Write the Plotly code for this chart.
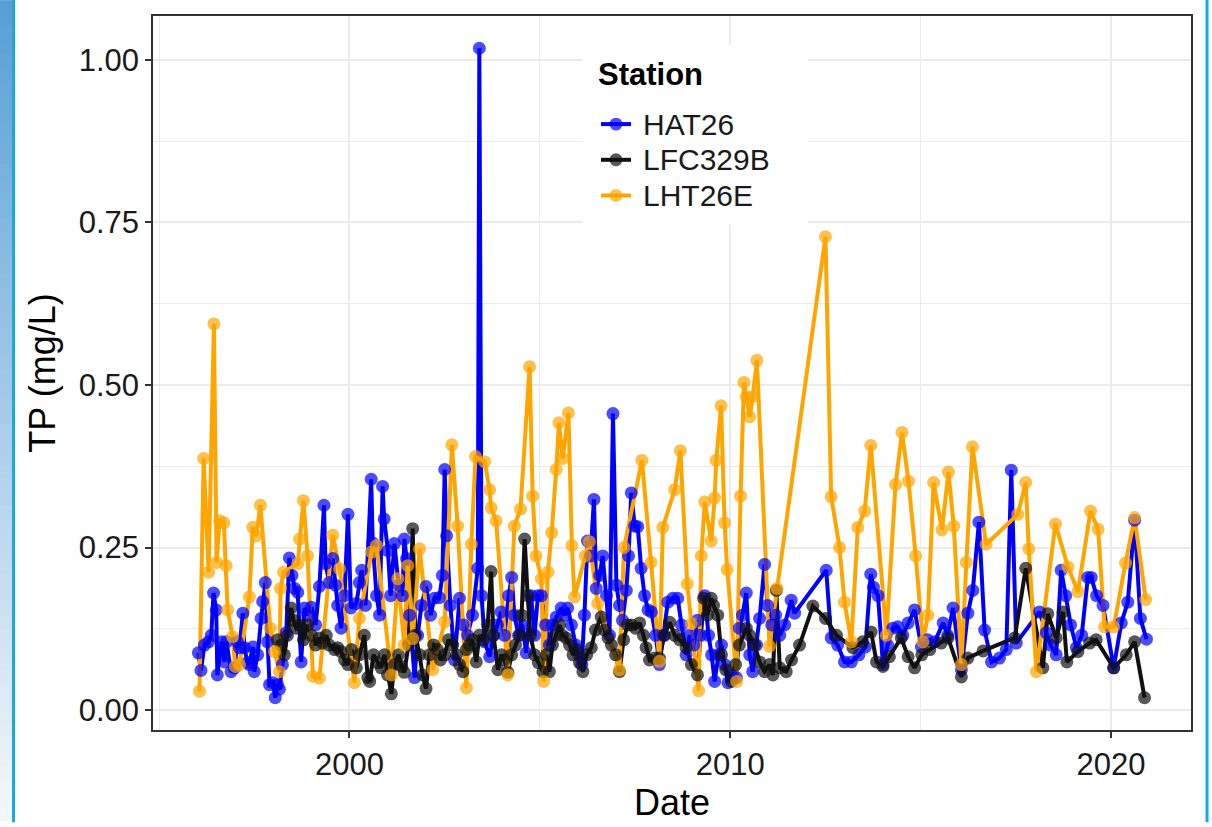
import plotly.graph_objects as go

# ---------------- data ----------------
stations = ["HAT26", "LFC329B", "LHT26E"]

hat_year = [1996.03, 1996.10, 1996.19, 1996.30, 1996.37, 1996.43, 1996.50, 1996.53, 1996.64, 1996.72,
            1996.77, 1996.89, 1996.98, 1997.06, 1997.11, 1997.20, 1997.24, 1997.32, 1997.37, 1997.46,
            1997.50, 1997.59, 1997.68, 1997.72, 1997.79, 1997.85, 1997.90, 1997.99, 1998.05, 1998.11,
            1998.16, 1998.24, 1998.34, 1998.42, 1998.49, 1998.56, 1998.64, 1998.73, 1998.82, 1998.90,
            1999.00, 1999.11, 1999.21, 1999.33, 1999.37, 1999.47, 1999.56, 1999.63, 1999.69, 1999.78,
            1999.87, 1999.96, 2000.04, 2000.18, 2000.26, 2000.32, 2000.42, 2000.57, 2000.61, 2000.71,
            2000.79, 2000.87, 2000.91, 2001.01, 2001.08, 2001.18, 2001.29, 2001.39, 2001.44, 2001.50,
            2001.58, 2001.71, 2001.79, 2001.89, 2002.01, 2002.13, 2002.23, 2002.36, 2002.44, 2002.50,
            2002.55, 2002.65, 2002.76, 2002.89, 2002.99, 2003.10, 2003.23, 2003.37, 2003.41, 2003.47,
            2003.55, 2003.68, 2003.78, 2003.89, 2003.98, 2004.07, 2004.18, 2004.26, 2004.33, 2004.44,
            2004.54, 2004.64, 2004.77, 2004.86, 2004.95, 2005.04, 2005.15, 2005.25, 2005.33, 2005.43,
            2005.56, 2005.65, 2005.73, 2005.83, 2005.94, 2006.02, 2006.10, 2006.17, 2006.25, 2006.33,
            2006.42, 2006.48, 2006.57, 2006.65, 2006.75, 2006.83, 2006.92, 2007.01, 2007.09, 2007.17,
            2007.27, 2007.33, 2007.40, 2007.49, 2007.57, 2007.66, 2007.75, 2007.84, 2007.93, 2008.04,
            2008.14, 2008.25, 2008.36, 2008.49, 2008.62, 2008.72, 2008.84, 2008.93, 2009.04, 2009.14,
            2009.22, 2009.33, 2009.43, 2009.51, 2009.59, 2009.69, 2009.77, 2009.85, 2009.94, 2010.03,
            2010.16, 2010.24, 2010.32, 2010.42, 2010.51, 2010.59, 2010.69, 2010.77, 2010.90, 2010.98,
            2011.09, 2011.19, 2011.30, 2011.43, 2011.60, 2011.69, 2012.52, 2012.65, 2012.82, 2013.00,
            2013.18, 2013.38, 2013.55, 2013.69, 2013.76, 2013.88, 2014.01, 2014.13, 2014.27, 2014.40,
            2014.53, 2014.67, 2014.84, 2015.02, 2015.18, 2015.37, 2015.59, 2015.71, 2015.85, 2016.07,
            2016.24, 2016.37, 2016.53, 2016.68, 2016.86, 2017.07, 2017.25, 2017.38, 2017.51, 2018.12,
            2018.30, 2018.41, 2018.56, 2018.69, 2018.81, 2018.94, 2019.09, 2019.23, 2019.39, 2019.48,
            2019.62, 2019.79, 2020.07, 2020.27, 2020.44, 2020.62, 2020.77, 2020.93]
hat_tp = [0.088, 0.061, 0.100, 0.105, 0.115, 0.180, 0.154, 0.054, 0.105, 0.074,
          0.105, 0.059, 0.065, 0.105, 0.096, 0.149, 0.096, 0.073, 0.070, 0.097,
          0.059, 0.085, 0.141, 0.167, 0.196, 0.105, 0.039, 0.042, 0.019, 0.039,
          0.032, 0.070, 0.119, 0.234, 0.207, 0.187, 0.181, 0.074, 0.157, 0.146,
          0.158, 0.131, 0.190, 0.315, 0.225, 0.196, 0.233, 0.192, 0.161, 0.126,
          0.176, 0.301, 0.157, 0.164, 0.196, 0.215, 0.161, 0.355, 0.257, 0.176,
          0.146, 0.344, 0.294, 0.245, 0.176, 0.256, 0.192, 0.176, 0.263, 0.233,
          0.146, 0.050, 0.115, 0.161, 0.190, 0.146, 0.172, 0.173, 0.207, 0.370,
          0.268, 0.161, 0.077, 0.172, 0.131, 0.115, 0.146, 0.218, 1.018, 0.176,
          0.105, 0.082, 0.115, 0.131, 0.151, 0.115, 0.176, 0.204, 0.146, 0.115,
          0.131, 0.088, 0.176, 0.115, 0.176, 0.176, 0.131, 0.100, 0.131, 0.143,
          0.157, 0.146, 0.157, 0.131, 0.100, 0.085, 0.070, 0.146, 0.260, 0.237,
          0.324, 0.187, 0.207, 0.237, 0.176, 0.115, 0.456, 0.192, 0.161, 0.138,
          0.184, 0.237, 0.334, 0.283, 0.282, 0.218, 0.176, 0.154, 0.151, 0.115,
          0.070, 0.115, 0.166, 0.172, 0.172, 0.131, 0.085, 0.115, 0.100, 0.138,
          0.115, 0.176, 0.115, 0.085, 0.044, 0.085, 0.100, 0.070, 0.042, 0.054,
          0.050, 0.126, 0.146, 0.180, 0.085, 0.059, 0.100, 0.141, 0.224, 0.161,
          0.131, 0.146, 0.115, 0.131, 0.169, 0.149, 0.215, 0.111, 0.100, 0.074,
          0.074, 0.085, 0.097, 0.209, 0.189, 0.176, 0.070, 0.100, 0.126, 0.128,
          0.115, 0.134, 0.154, 0.097, 0.108, 0.105, 0.134, 0.115, 0.157, 0.062,
          0.149, 0.184, 0.289, 0.123, 0.074, 0.080, 0.093, 0.369, 0.103, 0.151,
          0.119, 0.100, 0.085, 0.215, 0.176, 0.131, 0.096, 0.115, 0.204, 0.204,
          0.176, 0.161, 0.065, 0.134, 0.166, 0.292, 0.141, 0.109]

lfc_year = [1998.11, 1998.21, 1998.29, 1998.37, 1998.47, 1998.53, 1998.60, 1998.69, 1998.79, 1998.90,
            1999.00, 1999.11, 1999.21, 1999.29, 1999.39, 1999.47, 1999.61, 1999.69, 1999.78, 1999.87,
            1999.96, 2000.05, 2000.18, 2000.26, 2000.39, 2000.48, 2000.53, 2000.63, 2000.74, 2000.83,
            2000.92, 2001.00, 2001.10, 2001.18, 2001.29, 2001.37, 2001.44, 2001.55, 2001.66, 2001.73,
            2001.84, 2001.92, 2002.01, 2002.10, 2002.21, 2002.31, 2002.39, 2002.50, 2002.60, 2002.71,
            2002.81, 2002.89, 2002.98, 2003.07, 2003.15, 2003.23, 2003.33, 2003.41, 2003.52, 2003.63,
            2003.72, 2003.78, 2003.90, 2003.99, 2004.07, 2004.16, 2004.26, 2004.36, 2004.47, 2004.52,
            2004.60, 2004.68, 2004.75, 2004.86, 2004.96, 2005.08, 2005.17, 2005.25, 2005.33, 2005.41,
            2005.52, 2005.59, 2005.69, 2005.78, 2005.87, 2005.96, 2006.04, 2006.13, 2006.23, 2006.35,
            2006.46, 2006.61, 2006.70, 2006.79, 2006.88, 2006.99, 2007.09, 2007.20, 2007.30, 2007.41,
            2007.51, 2007.62, 2007.72, 2007.79, 2007.88, 2008.01, 2008.14, 2008.27, 2008.41, 2008.54,
            2008.67, 2008.84, 2008.98, 2009.14, 2009.30, 2009.40, 2009.50, 2009.56, 2009.67, 2009.77,
            2009.88, 2010.03, 2010.14, 2010.24, 2010.42, 2010.51, 2010.64, 2010.77, 2010.90, 2011.03,
            2011.12, 2011.21, 2011.30, 2011.47, 2011.61, 2011.82, 2012.17, 2012.50, 2012.79, 2013.22,
            2013.48, 2013.70, 2013.84, 2014.01, 2014.18, 2014.49, 2014.67, 2014.84, 2015.03, 2015.24,
            2015.54, 2015.72, 2016.07, 2016.24, 2016.64, 2017.47, 2017.76, 2018.21, 2018.34, 2018.56,
            2018.74, 2018.84, 2019.13, 2019.44, 2019.61, 2020.07, 2020.40, 2020.62, 2020.88]
lfc_tp = [0.108, 0.100, 0.085, 0.115, 0.157, 0.138, 0.126, 0.131, 0.108, 0.131,
          0.115, 0.100, 0.111, 0.103, 0.115, 0.100, 0.093, 0.096, 0.090, 0.077,
          0.070, 0.093, 0.065, 0.085, 0.115, 0.050, 0.044, 0.085, 0.073, 0.065,
          0.085, 0.054, 0.025, 0.070, 0.085, 0.067, 0.058, 0.100, 0.279, 0.115,
          0.085, 0.054, 0.033, 0.085, 0.100, 0.093, 0.077, 0.085, 0.108, 0.100,
          0.085, 0.070, 0.059, 0.093, 0.100, 0.108, 0.074, 0.115, 0.108, 0.131,
          0.213, 0.115, 0.062, 0.085, 0.077, 0.058, 0.085, 0.100, 0.115, 0.146,
          0.263, 0.176, 0.115, 0.085, 0.073, 0.059, 0.085, 0.059, 0.100, 0.115,
          0.131, 0.115, 0.111, 0.100, 0.085, 0.093, 0.073, 0.059, 0.085, 0.096,
          0.123, 0.143, 0.123, 0.111, 0.100, 0.085, 0.059, 0.108, 0.131, 0.131,
          0.126, 0.134, 0.115, 0.096, 0.077, 0.080, 0.080, 0.115, 0.135, 0.115,
          0.108, 0.096, 0.070, 0.054, 0.172, 0.146, 0.172, 0.161, 0.146, 0.085,
          0.062, 0.044, 0.070, 0.100, 0.126, 0.115, 0.100, 0.074, 0.059, 0.070,
          0.054, 0.184, 0.065, 0.059, 0.077, 0.100, 0.160, 0.141, 0.115, 0.096,
          0.105, 0.120, 0.074, 0.067, 0.082, 0.111, 0.082, 0.065, 0.085, 0.093,
          0.103, 0.111, 0.051, 0.080, 0.091, 0.111, 0.218, 0.065, 0.148, 0.111,
          0.151, 0.074, 0.090, 0.103, 0.108, 0.065, 0.085, 0.105, 0.019]

lht_year = [1996.06, 1996.17, 1996.30, 1996.44, 1996.51, 1996.59, 1996.70, 1996.76, 1996.80, 1996.93,
            1997.00, 1997.11, 1997.37, 1997.46, 1997.55, 1997.66, 1997.92, 1998.03, 1998.16, 1998.19,
            1998.27, 1998.64, 1998.69, 1998.79, 1998.90, 1999.04, 1999.21, 1999.56, 1999.74, 2000.13,
            2000.26, 2000.58, 2000.71, 2001.10, 2001.27, 2001.44, 2001.53, 2001.66, 2001.84, 2002.19,
            2002.50, 2002.69, 2002.84, 2003.07, 2003.20, 2003.31, 2003.55, 2003.68, 2003.72, 2003.85,
            2004.16, 2004.33, 2004.49, 2004.73, 2004.81, 2004.90, 2005.04, 2005.10, 2005.21, 2005.31,
            2005.43, 2005.50, 2005.60, 2005.75, 2005.84, 2005.91, 2006.19, 2006.30, 2006.52, 2007.09,
            2007.21, 2007.68, 2007.92, 2008.14, 2008.23, 2008.54, 2008.69, 2008.87, 2008.98, 2009.17,
            2009.24, 2009.33, 2009.50, 2009.59, 2009.63, 2009.76, 2009.85, 2009.92, 2010.17, 2010.27,
            2010.36, 2010.42, 2010.51, 2010.59, 2010.70, 2011.03, 2011.23, 2012.50, 2012.65, 2012.87,
            2013.00, 2013.18, 2013.35, 2013.53, 2013.69, 2014.10, 2014.34, 2014.51, 2014.68, 2014.87,
            2015.06, 2015.19, 2015.34, 2015.56, 2015.73, 2015.87, 2016.07, 2016.20, 2016.36, 2016.72,
            2017.55, 2017.76, 2017.84, 2018.04, 2018.54, 2018.87, 2019.13, 2019.46, 2019.66, 2019.83,
            2020.07, 2020.38, 2020.62, 2020.91]
lht_tp = [0.029, 0.387, 0.212, 0.594, 0.227, 0.291, 0.288, 0.222, 0.154, 0.113,
          0.067, 0.070, 0.174, 0.281, 0.268, 0.315, 0.126, 0.090, 0.059, 0.187,
          0.212, 0.225, 0.263, 0.322, 0.237, 0.052, 0.049, 0.269, 0.217, 0.042,
          0.141, 0.243, 0.253, 0.054, 0.202, 0.100, 0.222, 0.110, 0.248, 0.062,
          0.136, 0.408, 0.283, 0.034, 0.255, 0.390, 0.382, 0.339, 0.311, 0.291,
          0.054, 0.283, 0.309, 0.528, 0.329, 0.237, 0.202, 0.044, 0.212, 0.273,
          0.370, 0.442, 0.387, 0.457, 0.253, 0.174, 0.237, 0.259, 0.164, 0.062,
          0.250, 0.384, 0.227, 0.075, 0.281, 0.339, 0.399, 0.194, 0.133, 0.030,
          0.237, 0.320, 0.260, 0.326, 0.384, 0.468, 0.288, 0.216, 0.044, 0.329,
          0.504, 0.482, 0.451, 0.482, 0.538, 0.098, 0.187, 0.728, 0.328, 0.250,
          0.166, 0.105, 0.281, 0.306, 0.407, 0.115, 0.347, 0.427, 0.352, 0.237,
          0.105, 0.146, 0.350, 0.277, 0.366, 0.283, 0.070, 0.227, 0.405, 0.255,
          0.301, 0.350, 0.248, 0.059, 0.286, 0.220, 0.182, 0.306, 0.278, 0.128,
          0.128, 0.226, 0.296, 0.170]

x_ticks = [2000, 2010, 2020]
y_ticks = [0.00, 0.25, 0.50, 0.75, 1.00]
y_ticklabels = ["0.00", "0.25", "0.50", "0.75", "1.00"]
legend_title = "Station"

# ---------------- styling ----------------
colors = {"HAT26": "#0000FF", "LFC329B": "#111111", "LHT26E": "#FFA500"}
series = {"HAT26": (hat_year, hat_tp), "LFC329B": (lfc_year, lfc_tp), "LHT26E": (lht_year, lht_tp)}
FONT = "Liberation Sans, Arial, sans-serif"
LW, MS, MOP = 4, 13, 0.7

fig = go.Figure()
# lines first (ggplot draws the geom_line layer below the geom_point layer)
for s in stations:
    xs, ys = series[s]
    fig.add_trace(go.Scatter(x=xs, y=ys, mode="lines", name=s, legendgroup=s, showlegend=False,
                             line=dict(color=colors[s], width=LW), hoverinfo="skip"))
for s in stations:
    xs, ys = series[s]
    fig.add_trace(go.Scatter(x=xs, y=ys, mode="markers", name=s, legendgroup=s, showlegend=False,
                             marker=dict(color=colors[s], size=MS, opacity=MOP, line=dict(width=0))))

L, R, T, B = 153, 21, 16, 91
W, H = 1212, 827
pw, ph = W - L - R, H - T - B


def px_x(p):
    return (p - L) / pw


def px_y(p):
    return (H - B - p) / ph


shapes = []
annotations = []
# decorative frame at the left: vertical gradient strip + cyan rule; cyan rule at the right
top_c = (88, 160, 212)
bot_c = (242, 247, 252)
n = 60
for i in range(n):
    f = i / (n - 1)
    c = tuple(int(round(top_c[k] + (bot_c[k] - top_c[k]) * f)) for k in range(3))
    shapes.append(dict(type="rect", xref="paper", yref="paper", layer="below",
                       x0=px_x(0), x1=px_x(12), y0=px_y(H * (i + 1) / n + 1), y1=px_y(H * i / n),
                       fillcolor="rgb(%d,%d,%d)" % c, line=dict(width=0)))
shapes.append(dict(type="rect", xref="paper", yref="paper", layer="below",
                   x0=px_x(12), x1=px_x(15), y0=px_y(H + 2), y1=px_y(-2),
                   fillcolor="#18A8EA", line=dict(width=0)))
shapes.append(dict(type="rect", xref="paper", yref="paper", layer="below",
                   x0=px_x(1205.5), x1=px_x(1208.5), y0=px_y(H + 2), y1=px_y(-2),
                   fillcolor="#18A8EA", line=dict(width=0)))

# legend (ggplot-style key, drawn inside the panel)
shapes.append(dict(type="rect", xref="paper", yref="paper", layer="above",
                   x0=px_x(583), x1=px_x(808), y0=px_y(226), y1=px_y(45),
                   fillcolor="white", line=dict(width=0)))
annotations.append(dict(xref="paper", yref="paper", x=px_x(596), y=px_y(75), xanchor="left",
                        yanchor="middle", showarrow=False, text="<b>%s</b>" % legend_title,
                        font=dict(size=31, color="#000000", family=FONT)))
key_y = [125, 161, 197]
for s, ky in zip(stations, key_y):
    shapes.append(dict(type="line", xref="paper", yref="paper", layer="above",
                       x0=px_x(601), x1=px_x(631), y0=px_y(ky), y1=px_y(ky),
                       line=dict(color=colors[s], width=LW)))
    shapes.append(dict(type="circle", xref="paper", yref="paper", layer="above",
                       x0=px_x(616 - 6.5), x1=px_x(616 + 6.5), y0=px_y(ky + 6.5), y1=px_y(ky - 6.5),
                       fillcolor=colors[s], opacity=MOP, line=dict(width=0)))
    annotations.append(dict(xref="paper", yref="paper", x=px_x(641), y=px_y(ky), xanchor="left",
                            yanchor="middle", showarrow=False, text=s,
                            font=dict(size=30, color="#1a1a1a", family=FONT)))

fig.update_layout(
    width=W, height=H,
    margin=dict(l=L, r=R, t=T, b=B),
    paper_bgcolor="white", plot_bgcolor="white",
    font=dict(family=FONT, color="#1a1a1a"),
    shapes=shapes,
    annotations=annotations,
    showlegend=False,
    xaxis=dict(range=[1994.84, 2022.10], tickvals=x_ticks, ticktext=[str(v) for v in x_ticks],
               showgrid=True, gridcolor="#EBEBEB", gridwidth=1.8,
               minor=dict(tick0=1995, dtick=5, showgrid=True, gridcolor="#EBEBEB", gridwidth=0.9, ticks=""),
               showline=True, mirror=True, linecolor="#333333", linewidth=1.5,
               ticks="outside", ticklen=6, tickwidth=1.5, tickcolor="#333333",
               tickfont=dict(size=31, color="#1a1a1a", family=FONT),
               title=dict(text="Date", font=dict(size=36, color="#000000", family=FONT), standoff=8),
               zeroline=False),
    yaxis=dict(range=[-0.0307, 1.0676], tickvals=y_ticks, ticktext=y_ticklabels,
               showgrid=True, gridcolor="#EBEBEB", gridwidth=1.8,
               minor=dict(tick0=0.125, dtick=0.25, showgrid=True, gridcolor="#EBEBEB", gridwidth=0.9, ticks=""),
               showline=True, mirror=True, linecolor="#333333", linewidth=1.5,
               ticks="outside", ticklen=6, tickwidth=1.5, tickcolor="#333333",
               tickfont=dict(size=31, color="#1a1a1a", family=FONT),
               title=dict(text="TP (mg/L)", font=dict(size=36, color="#000000", family=FONT), standoff=12),
               zeroline=False),
)

fig.write_html("out.html")
